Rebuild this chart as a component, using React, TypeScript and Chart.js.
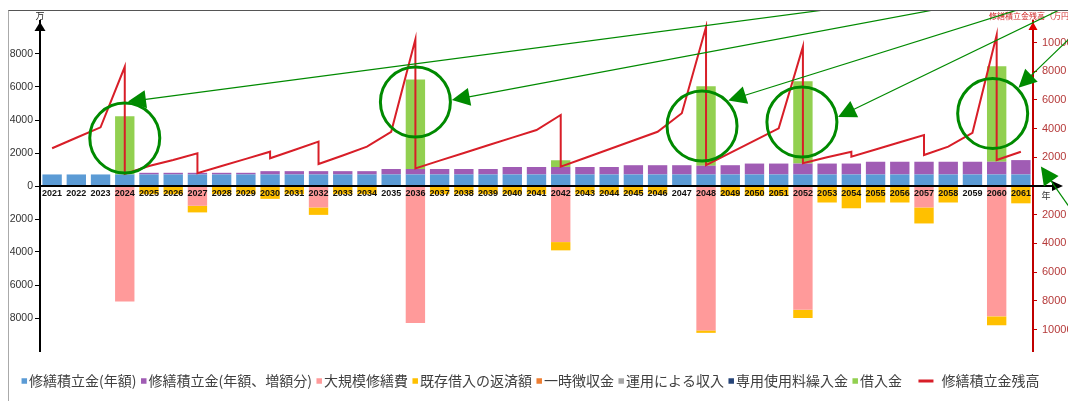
import React, { useEffect, useRef } from 'react';
import { Chart, registerables } from 'chart.js';

Chart.register(...registerables);
Chart.defaults.font.family = "'Liberation Sans', Arial, sans-serif";

// ---- categories ----
const years = [
  '2021', '2022', '2023', '2024', '2025', '2026', '2027', '2028', '2029', '2030',
  '2031', '2032', '2033', '2034', '2035', '2036', '2037', '2038', '2039', '2040',
  '2041', '2042', '2043', '2044', '2045', '2046', '2047', '2048', '2049', '2050',
  '2051', '2052', '2053', '2054', '2055', '2056', '2057', '2058', '2059', '2060',
  '2061',
];

// ---- series (万円) ----
const reserveAnnual = [
  700, 700, 700, 700, 700, 700, 700, 700, 700, 700,
  700, 700, 700, 700, 700, 700, 700, 700, 700, 700,
  700, 700, 700, 700, 700, 700, 700, 700, 700, 700,
  700, 700, 700, 700, 700, 700, 700, 700, 700, 700,
  700,
];
const reserveIncrease = [
  0, 0, 0, 0, 100, 100, 100, 100, 100, 200,
  200, 200, 200, 200, 330, 330, 330, 330, 330, 450,
  450, 450, 450, 450, 560, 560, 560, 530, 560, 660,
  660, 660, 660, 660, 770, 770, 770, 770, 770, 770,
  870,
];
const majorRepair = [
  0, 0, 0, -7000, 0, 0, -1200, 0, 0, 0,
  0, -1300, 0, 0, 0, -8300, 0, 0, 0, 0,
  0, -3400, 0, 0, 0, 0, 0, -8750, 0, 0,
  0, -7500, 0, 0, 0, 0, -1300, 0, 0, -7900,
  0,
];
const loanRepayment = [
  0, 0, 0, 0, -500, -500, -400, -500, -500, -780,
  -500, -450, -500, -500, 0, 0, -500, -500, -500, -500,
  -500, -500, -500, -500, -500, -500, 0, -150, -600, -600,
  -600, -500, -1000, -1350, -1000, -1000, -970, -1000, 0, -540,
  -1050,
];
const temporaryCollection = [
  0, 0, 0, 0, 0, 0, 0, 0, 0, 0, 0, 0, 0, 0, 0, 0, 0, 0, 0, 0,
  0, 0, 0, 0, 0, 0, 0, 0, 0, 0, 0, 0, 0, 0, 0, 0, 0, 0, 0, 0, 0,
];
const investmentIncome = [
  0, 0, 0, 0, 0, 0, 0, 0, 0, 0, 0, 0, 0, 0, 0, 0, 0, 0, 0, 0,
  0, 0, 0, 0, 0, 0, 0, 0, 0, 0, 0, 0, 0, 0, 0, 0, 0, 0, 0, 0, 0,
];
const usageFeeTransfer = [
  0, 0, 0, 0, 0, 0, 0, 0, 0, 0, 0, 0, 0, 0, 0, 0, 0, 0, 0, 0,
  0, 0, 0, 0, 0, 0, 0, 0, 0, 0, 0, 0, 0, 0, 0, 0, 0, 0, 0, 0, 0,
];
const borrowing = [
  0, 0, 0, 3530, 0, 0, 0, 0, 0, 0,
  0, 0, 0, 0, 0, 5420, 0, 0, 0, 0,
  0, 410, 0, 0, 0, 0, 0, 4820, 0, 0,
  0, 4990, 0, 0, 0, 0, 0, 0, 0, 5790,
  0,
];

// balance line (a repair year appears twice: before and after the payment)
const balanceYears = [
  '2021', '2022', '2023', '2024', '2024', '2025', '2026', '2027', '2027', '2028',
  '2029', '2030', '2030', '2031', '2032', '2032', '2033', '2034', '2035', '2036',
  '2036', '2037', '2038', '2039', '2040', '2041', '2042', '2042', '2043', '2044',
  '2045', '2046', '2047', '2048', '2048', '2049', '2050', '2051', '2052', '2052',
  '2053', '2054', '2054', '2055', '2056', '2057', '2057', '2058', '2059', '2060',
  '2060', '2061',
];
const balanceValues = [
  2630, 3360, 4090, 8310, 840, 1390, 1810, 2280, 890, 1390,
  1890, 2390, 1930, 2510, 3090, 1530, 2130, 2740, 3780, 10220,
  1230, 1770, 2300, 2840, 3370, 3900, 4950, 1350, 1950, 2560,
  3170, 3780, 5070, 11080, 1460, 2310, 3160, 4020, 9710, 1580,
  2000, 2390, 2040, 2540, 3050, 3550, 2160, 2740, 3710, 10520,
  1810, 2390,
];

// ---- tick labels ----
const leftTickValues = [-8000, -6000, -4000, -2000, 0, 2000, 4000, 6000, 8000];
const rightTickValues = [-10000, -8000, -6000, -4000, -2000, 2000, 4000, 6000, 8000, 10000];

// ---- callouts (green circles/arrows), anchored on the chart scales ----
const callouts = [
  { year: '2024', value: 2910, dx: 0, circle: true, tipDeg: -85, lineDeg: -7.5 },
  { year: '2036', value: 5090, dx: 0, circle: true, tipDeg: -3, lineDeg: -10.6 },
  { year: '2048', value: 3640, dx: -4, circle: true, tipDeg: -44, lineDeg: -17.4 },
  { year: '2052', value: 3880, dx: -1, circle: true, tipDeg: -8, lineDeg: -25.8 },
  { year: '2060', value: 4390, dx: -4, circle: true, tipDeg: -45, lineDeg: -44 },
  { year: '2061', value: 1180, dx: 20, circle: false, tipDeg: 0, lineDeg: 55 },
];

const COLORS = {
  blue: '#5b9bd5',
  purple: '#a05cb4',
  pink: '#ff9a9a',
  yellow: '#ffc000',
  orange: '#ed7d31',
  gray: '#a5a5a5',
  navy: '#264478',
  green: '#92d050',
  red: '#d81e28',
};

function triangle(ctx: CanvasRenderingContext2D, tx: number, ty: number, ang: number, len: number, half: number, color: string) {
  const bx = tx + Math.cos(ang) * len;
  const by = ty + Math.sin(ang) * len;
  const px = -Math.sin(ang) * half;
  const py = Math.cos(ang) * half;
  ctx.fillStyle = color;
  ctx.beginPath();
  ctx.moveTo(tx, ty);
  ctx.lineTo(bx + px, by + py);
  ctx.lineTo(bx - px, by - py);
  ctx.closePath();
  ctx.fill();
}

const decorPlugin = {
  id: 'decor',
  afterDraw(chart: any) {
    const { ctx, chartArea: ca, scales } = chart;
    const xs = scales.x;
    const ys = scales.y;
    const y0 = ys.getPixelForValue(0);
    ctx.save();

    // x axis extension + arrow
    ctx.strokeStyle = '#000';
    ctx.lineWidth = 2;
    ctx.beginPath();
    ctx.moveTo(ca.right, y0);
    ctx.lineTo(ca.right + 20, y0);
    ctx.stroke();
    triangle(ctx, ca.right + 30, y0, Math.PI, 11, 5, '#000');
    ctx.fillStyle = '#333';
    ctx.font = '9px "Noto Sans CJK JP"';
    ctx.textAlign = 'center';
    ctx.textBaseline = 'middle';
    ctx.fillText('年', ca.right + 13, y0 + 10);

    // left axis arrow + unit
    triangle(ctx, ca.left, ca.top + 1, Math.PI / 2, 9, 5.5, '#000');
    ctx.fillStyle = '#222';
    ctx.fillText('万', ca.left, ca.top - 5);

    // right axis arrow + title
    triangle(ctx, ca.right, ca.top + 1, Math.PI / 2, 8, 4.5, '#e00000');
    ctx.fillStyle = '#d02828';
    ctx.font = '8px "Noto Sans CJK JP"';
    ctx.textAlign = 'left';
    ctx.fillText('修繕積立金残高（万円）', ca.right - 44, ca.top - 5);

    // callouts
    const green = '#008a00';
    callouts.forEach((c) => {
      const cx = xs.getPixelForValue(years.indexOf(c.year)) + c.dx;
      const cy = ys.getPixelForValue(c.value);
      const r = 35;
      let tx = cx;
      let ty = cy;
      if (c.circle) {
        ctx.strokeStyle = green;
        ctx.lineWidth = 3;
        ctx.beginPath();
        ctx.arc(cx, cy, r, 0, Math.PI * 2);
        ctx.stroke();
        const ta = (c.tipDeg * Math.PI) / 180;
        tx = cx + Math.cos(ta) * (r + 1.5);
        ty = cy + Math.sin(ta) * (r + 1.5);
      }
      const la = (c.lineDeg * Math.PI) / 180;
      triangle(ctx, tx, ty, la, 18, 9, green);
      ctx.strokeStyle = green;
      ctx.lineWidth = 1.2;
      ctx.beginPath();
      ctx.moveTo(tx + Math.cos(la) * 16, ty + Math.sin(la) * 16);
      ctx.lineTo(tx + Math.cos(la) * 1200, ty + Math.sin(la) * 1200);
      ctx.stroke();
    });

    // legend
    ctx.font = '14px "Noto Sans CJK JP"';
    ctx.textBaseline = 'middle';
    ctx.textAlign = 'left';
    const items = chart.data.datasets.map((ds: any) => ({
      text: ds.label as string,
      color: (ds.type === 'line' ? ds.borderColor : ds.backgroundColor) as string,
      line: ds.type === 'line',
      tw: 0,
      w: 0,
    }));
    const box = 5.5;
    const gapBox = 2;
    const gapItem = 4.5;
    let total = 0;
    items.forEach((it: any, i: number) => {
      it.tw = ctx.measureText(it.text).width;
      it.w = it.line ? 12 + 15 + 8 + it.tw : box + gapBox + it.tw;
      total += it.w + (i < items.length - 1 ? gapItem : 0);
    });
    let x = (ca.left + ca.right) / 2 - 6 - total / 2;
    const ly = ca.bottom + 30;
    items.forEach((it: any) => {
      if (it.line) {
        ctx.fillStyle = it.color;
        ctx.fillRect(x + 12, ly - 1.5, 15, 3);
        ctx.fillStyle = '#404040';
        ctx.fillText(it.text, x + 35, ly);
      } else {
        ctx.fillStyle = it.color;
        ctx.fillRect(x, ly - box / 2, box, box);
        ctx.fillStyle = '#404040';
        ctx.fillText(it.text, x + box + gapBox, ly);
      }
      x += it.w + gapItem;
    });

    ctx.restore();
  },
};

export default function App() {
  const ref = useRef<HTMLCanvasElement>(null);
  useEffect(() => {
    document.body.style.overflow = 'hidden';
    document.documentElement.style.overflow = 'hidden';
    const barCommon = { barPercentage: 0.8, categoryPercentage: 1.0, borderWidth: 0, yAxisID: 'y', stack: 'bars' };
    const chart = new Chart(ref.current as HTMLCanvasElement, {
      type: 'bar',
      data: {
        labels: years,
        datasets: [
          { ...barCommon, label: '修繕積立金(年額)', data: reserveAnnual, backgroundColor: COLORS.blue },
          { ...barCommon, label: '修繕積立金(年額、増額分)', data: reserveIncrease, backgroundColor: COLORS.purple },
          { ...barCommon, label: '大規模修繕費', data: majorRepair, backgroundColor: COLORS.pink },
          { ...barCommon, label: '既存借入の返済額', data: loanRepayment, backgroundColor: COLORS.yellow },
          { ...barCommon, label: '一時徴収金', data: temporaryCollection, backgroundColor: COLORS.orange },
          { ...barCommon, label: '運用による収入', data: investmentIncome, backgroundColor: COLORS.gray },
          { ...barCommon, label: '専用使用料繰入金', data: usageFeeTransfer, backgroundColor: COLORS.navy },
          { ...barCommon, label: '借入金', data: borrowing, backgroundColor: COLORS.green },
          {
            type: 'line',
            label: '修繕積立金残高',
            data: balanceYears.map((yr, i) => ({ x: yr, y: balanceValues[i] })),
            yAxisID: 'y1',
            stack: 'line',
            borderColor: COLORS.red,
            backgroundColor: COLORS.red,
            borderWidth: 2,
            pointRadius: 0,
            tension: 0,
            order: -1,
          } as any,
        ],
      },
      options: {
        responsive: false,
        animation: false,
        devicePixelRatio: 1,
        layout: { padding: { top: 10, bottom: 55, left: 0, right: 0 } },
        plugins: { legend: { display: false }, tooltip: { enabled: false } },
        scales: {
          x: {
            type: 'category',
            stacked: true,
            position: { y: 0 } as any,
            grid: { display: false, drawTicks: false },
            border: { display: true, color: '#000', width: 2, z: 1 },
            ticks: {
              z: 1,
              autoSkip: false,
              maxRotation: 0,
              minRotation: 0,
              padding: 2,
              color: '#111',
              font: { size: 9, weight: 'bold' },
            },
            afterFit: (s: any) => {
              s.paddingLeft = 0;
              s.paddingRight = 0;
            },
          },
          y: {
            position: 'left',
            stacked: true,
            min: -10000,
            max: 10000,
            ticks: {
              stepSize: 2000,
              color: '#333',
              font: { size: 10.5 },
              padding: 2,
              callback: (v: any) => String(Math.abs(Number(v))),
            },
            grid: { drawOnChartArea: false, drawTicks: true, tickLength: 5, color: '#000' },
            border: { color: '#000', width: 2 },
            afterBuildTicks: (s: any) => {
              s.ticks = leftTickValues.map((v) => ({ value: v }));
            },
            afterFit: (s: any) => {
              s.width = 31;
              s.paddingTop = 0;
              s.paddingBottom = 0;
            },
          },
          y1: {
            position: 'right',
            min: -11500,
            max: 11500,
            ticks: {
              stepSize: 2000,
              includeBounds: false,
              color: '#b53a3a',
              font: { size: 11 },
              padding: 5,
              callback: (v: any) => String(Math.abs(Number(v))),
            },
            grid: { drawOnChartArea: false, drawTicks: true, tickLength: 4, color: '#c00000' },
            border: { color: '#c00000', width: 2 },
            afterBuildTicks: (s: any) => {
              s.ticks = rightTickValues.map((v) => ({ value: v }));
            },
            afterFit: (s: any) => {
              s.width = 66;
              s.paddingTop = 0;
              s.paddingBottom = 0;
            },
          },
        },
      } as any,
      plugins: [decorPlugin],
    });
    return () => chart.destroy();
  }, []);

  return (
    <div
      style={{
        position: 'absolute',
        left: 8,
        top: 10,
        width: 1090,
        height: 400,
        borderTop: '1px solid #555',
        borderLeft: '1px solid #aaa',
        background: '#fff',
      }}
    >
      <canvas ref={ref} width={1090} height={395} style={{ display: 'block' }} />
    </div>
  );
}
